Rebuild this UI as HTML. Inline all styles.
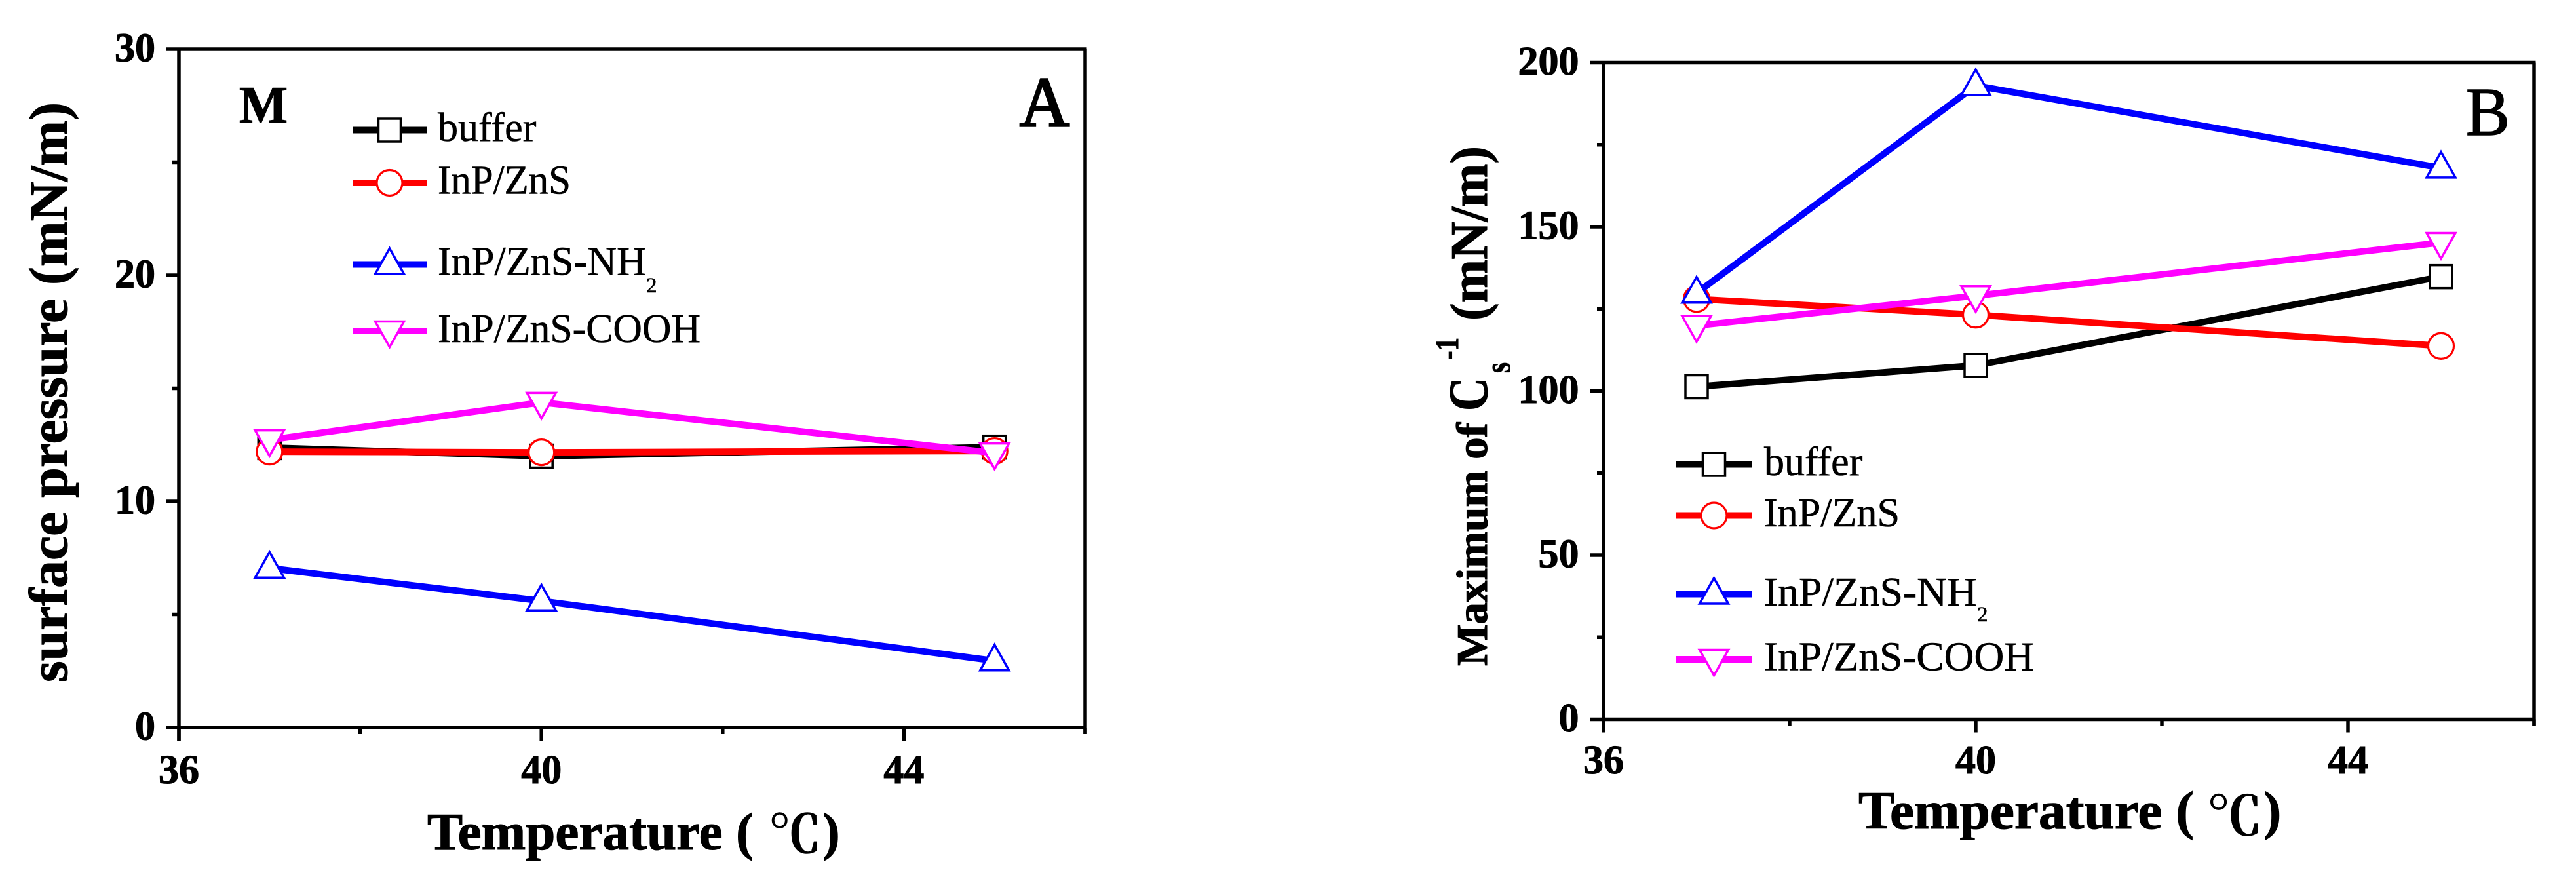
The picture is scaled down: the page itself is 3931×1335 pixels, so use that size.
<!DOCTYPE html>
<html lang="en">
<head>
<meta charset="utf-8">
<title>Surface pressure and compressibility modulus vs temperature</title>
<style>
html,body{margin:0;padding:0;background:#fff;}
svg{display:block;}
text{font-family:"Liberation Serif","Noto Serif CJK SC",serif;fill:#000;stroke:#000;stroke-width:0.6px;}
.b{font-weight:bold;stroke-width:1.1px;}
.cjk{font-family:"Noto Serif CJK SC","Liberation Serif",serif;font-weight:bold;}
</style>
</head>
<body>
<svg id="figure" xmlns="http://www.w3.org/2000/svg" width="3931" height="1335" viewBox="0 0 3931 1335">
  <rect width="3931" height="1335" fill="#fff"/>

  <g id="panel-a"></g>
  <g id="panel-b"></g>

  <!-- Panel A text -->
  <text class="b" font-size="83" textLength="885" lengthAdjust="spacingAndGlyphs" transform="translate(102,1041) rotate(-90)">surface pressure (mN/m)</text>
  <text class="b" font-size="80" x="652" y="1296" textLength="498" lengthAdjust="spacingAndGlyphs">Temperature (</text>
  <text class="cjk" font-size="80" x="1173" y="1301" textLength="80" lengthAdjust="spacingAndGlyphs">℃</text>
  <text class="b" font-size="80" x="1255" y="1296">)</text>
  <text class="b" font-size="80" x="365" y="187" textLength="74" lengthAdjust="spacingAndGlyphs">M</text>
  <text style="stroke-width:3px" font-size="108" x="1556" y="192" textLength="76" lengthAdjust="spacingAndGlyphs">A</text>
  <text font-size="62" x="668" y="215">buffer</text>
  <text font-size="62" x="668" y="295.5" textLength="203" lengthAdjust="spacingAndGlyphs">InP/ZnS</text>
  <text font-size="62" x="668" y="419.5" textLength="318" lengthAdjust="spacingAndGlyphs">InP/ZnS-NH</text>
  <text font-size="33" x="986" y="446">2</text>
  <text font-size="62" x="668" y="522" textLength="401" lengthAdjust="spacingAndGlyphs">InP/ZnS-COOH</text>

  <!-- Panel B text -->
  <text class="b" font-size="67" textLength="371" lengthAdjust="spacingAndGlyphs" transform="translate(2269,1016) rotate(-90)">Maximum of</text>
  <text class="b" font-size="85" textLength="51" lengthAdjust="spacingAndGlyphs" transform="translate(2269,627) rotate(-90)">C</text>
  <text class="b" font-size="55" textLength="16" lengthAdjust="spacingAndGlyphs" transform="translate(2304,569) rotate(-90)">s</text>
  <text class="b" font-size="50" textLength="34" lengthAdjust="spacingAndGlyphs" transform="translate(2225,549) rotate(-90)">-1</text>
  <text class="b" font-size="80" textLength="266" lengthAdjust="spacingAndGlyphs" transform="translate(2269,489) rotate(-90)">(mN/m)</text>
  <text class="b" font-size="82" x="2836" y="1264" textLength="512" lengthAdjust="spacingAndGlyphs">Temperature (</text>
  <text class="cjk" font-size="82" x="3368" y="1274" textLength="84" lengthAdjust="spacingAndGlyphs">℃</text>
  <text class="b" font-size="82" x="3454" y="1264">)</text>
  <text style="stroke-width:1.5px" font-size="105" x="3763" y="206" textLength="67" lengthAdjust="spacingAndGlyphs">B</text>
  <text font-size="62" x="2692" y="725">buffer</text>
  <text font-size="62" x="2692" y="803" textLength="207" lengthAdjust="spacingAndGlyphs">InP/ZnS</text>
  <text font-size="62" x="2692" y="924" textLength="325" lengthAdjust="spacingAndGlyphs">InP/ZnS-NH</text>
  <text font-size="33" x="3017" y="948">2</text>
  <text font-size="62" x="2692" y="1022.5" textLength="412" lengthAdjust="spacingAndGlyphs">InP/ZnS-COOH</text>
</svg>

<script>
// ---- chart data ----
const temperatures = [37, 40, 45];

const surfaceBuffer = [12.38, 12.0, 12.4];
const surfaceInpZns = [12.2, 12.17, 12.23];
const surfaceNh2 = [7.05, 5.6, 2.95];
const surfaceCooh = [12.72, 14.38, 12.14];

const modulusBuffer = [101.3, 107.8, 134.8];
const modulusInpZns = [128, 123.2, 113.7];
const modulusNh2 = [129.8, 193, 167.9];
const modulusCooh = [119.9, 129, 145.2];

const xMajorTicks = [36, 40, 44];
const xMinorTicks = [38, 42, 46];
const yMajorTicksA = [0, 10, 20, 30];
const yMinorTicksA = [5, 15, 25];
const yMajorTicksB = [0, 50, 100, 150, 200];
const yMinorTicksB = [25, 75, 125, 175];

// ---- axis functions ----
const xScaleA = function (v) { return 273 + (v - 36) * 138.3; };
const yScaleA = function (v) { return 1110 - v * 34.5; };
const xScaleB = function (v) { return 2447 + (v - 36) * 142; };
const yScaleB = function (v) { return 1097.5 - v * 5.01; };

const NS = 'http://www.w3.org/2000/svg';

function make(tag, parent, props) {
  const node = document.createElementNS(NS, tag);
  Object.keys(props).forEach(function (k) { node.setAttribute(k, props[k]); });
  parent.appendChild(node);
  return node;
}

function drawMarker(parent, kind, cx, cy, color, name) {
  let m;
  if (kind === 'square') {
    m = make('rect', parent, { x: cx - 17, y: cy - 17.5, width: 34, height: 35, fill: '#fff', stroke: color, 'stroke-width': 3.5 });
  } else if (kind === 'circle') {
    m = make('circle', parent, { cx: cx, cy: cy, r: 19.5, fill: '#fff', stroke: color, 'stroke-width': 3.2 });
  } else if (kind === 'up') {
    m = make('polygon', parent, {
      points: [cx, cy - 24.5, cx + 22, cy + 14.5, cx - 22, cy + 14.5].join(','),
      fill: '#fff', stroke: color, 'stroke-width': 3.5
    });
  } else {
    m = make('polygon', parent, {
      points: [cx, cy + 24.5, cx + 22, cy - 14.5, cx - 22, cy - 14.5].join(','),
      fill: '#fff', stroke: color, 'stroke-width': 3.5
    });
  }
  
  
}

function drawSeries(parent, xFn, yFn, xs, ys, color, kind, name) {
  const pts = xs.map(function (x, i) { return xFn(x) + ',' + yFn(ys[i]); }).join(' ');
  const line = make('polyline', parent, { points: pts, fill: 'none', stroke: color, 'stroke-width': 10, 'stroke-linejoin': 'miter' });
  
  
  xs.forEach(function (x, i) {
    drawMarker(parent, kind, xFn(x), yFn(ys[i]), color, name + '-point-' + x);
  });
}

function drawAxes(parent, cfg) {
  const xFn = cfg.xFn, yFn = cfg.yFn;
  const left = xFn(36), right = xFn(46), top = yFn(cfg.yMax), bottom = yFn(0);

  function seg(x1, y1, x2, y2, name) {
    const l = make('line', parent, { x1: x1, y1: y1, x2: x2, y2: y2, stroke: '#000', 'stroke-width': 5.5 });
    
    
  }

  seg(left, top, left, bottom + cfg.majorLen, cfg.prefix + '-y-axis');
  seg(left, bottom, right + 2.5, bottom, cfg.prefix + '-x-axis');
  seg(left, top, right + 2.5, top, cfg.prefix + '-top-border');
  seg(right, top, right, bottom + cfg.minorLen, cfg.prefix + '-right-border');

  cfg.yMajor.forEach(function (v) {
    seg(left - cfg.majorLen, yFn(v), left, yFn(v), cfg.prefix + '-y-tick-' + v);
    const t = make('text', parent, { class: 'b', 'font-size': 62, x: left - cfg.yLabelGap, y: yFn(v) + 18.5, 'text-anchor': 'end' });
    t.textContent = String(v);
    
    
  });
  cfg.yMinor.forEach(function (v) {
    seg(left - cfg.minorLen, yFn(v), left, yFn(v), cfg.prefix + '-y-minor-tick-' + v);
  });
  xMajorTicks.forEach(function (v) {
    seg(xFn(v), bottom, xFn(v), bottom + cfg.majorLen, cfg.prefix + '-x-tick-' + v);
    const t = make('text', parent, { class: 'b', 'font-size': 62, x: xFn(v), y: cfg.xLabelY, 'text-anchor': 'middle' });
    t.textContent = String(v);
    
    
  });
  xMinorTicks.forEach(function (v) {
    seg(xFn(v), bottom, xFn(v), bottom + cfg.minorLen, cfg.prefix + '-x-minor-tick-' + v);
  });
}

function drawLegendKey(parent, x1, x2, xm, y, color, kind, name) {
  const l = make('line', parent, { x1: x1, y1: y, x2: x2, y2: y, stroke: color, 'stroke-width': 10 });
  
  
  drawMarker(parent, kind, xm, y, color, name + '-marker');
}

// ---- panel A ----
const panelA = document.getElementById('panel-a');
drawAxes(panelA, {
  prefix: 'panel-a', xFn: xScaleA, yFn: yScaleA, yMax: 30,
  yMajor: yMajorTicksA, yMinor: yMinorTicksA,
  majorLen: 20, minorLen: 10, yLabelGap: 36, xLabelY: 1195
});
drawSeries(panelA, xScaleA, yScaleA, temperatures, surfaceBuffer, '#000', 'square', 'panel-a-buffer');
drawSeries(panelA, xScaleA, yScaleA, temperatures, surfaceInpZns, '#f00', 'circle', 'panel-a-inp-zns');
drawSeries(panelA, xScaleA, yScaleA, temperatures, surfaceNh2, '#00f', 'up', 'panel-a-inp-zns-nh2');
drawSeries(panelA, xScaleA, yScaleA, temperatures, surfaceCooh, '#f0f', 'down', 'panel-a-inp-zns-cooh');
drawLegendKey(panelA, 539, 651, 594.5, 198.5, '#000', 'square', 'panel-a-legend-key-buffer');
drawLegendKey(panelA, 539, 651, 594.5, 279, '#f00', 'circle', 'panel-a-legend-key-inp-zns');
drawLegendKey(panelA, 539, 651, 594.5, 403.5, '#00f', 'up', 'panel-a-legend-key-nh2');
drawLegendKey(panelA, 539, 651, 594.5, 505, '#f0f', 'down', 'panel-a-legend-key-cooh');

// ---- panel B ----
const panelB = document.getElementById('panel-b');
drawAxes(panelB, {
  prefix: 'panel-b', xFn: xScaleB, yFn: yScaleB, yMax: 200,
  yMajor: yMajorTicksB, yMinor: yMinorTicksB,
  majorLen: 20, minorLen: 10, yLabelGap: 37.5, xLabelY: 1180
});
drawSeries(panelB, xScaleB, yScaleB, temperatures, modulusBuffer, '#000', 'square', 'panel-b-buffer');
drawSeries(panelB, xScaleB, yScaleB, temperatures, modulusInpZns, '#f00', 'circle', 'panel-b-inp-zns');
drawSeries(panelB, xScaleB, yScaleB, temperatures, modulusNh2, '#00f', 'up', 'panel-b-inp-zns-nh2');
drawSeries(panelB, xScaleB, yScaleB, temperatures, modulusCooh, '#f0f', 'down', 'panel-b-inp-zns-cooh');
drawLegendKey(panelB, 2558, 2673, 2615.5, 708.5, '#000', 'square', 'panel-b-legend-key-buffer');
drawLegendKey(panelB, 2558, 2673, 2615.5, 786.5, '#f00', 'circle', 'panel-b-legend-key-inp-zns');
drawLegendKey(panelB, 2558, 2673, 2615.5, 906.5, '#00f', 'up', 'panel-b-legend-key-nh2');
drawLegendKey(panelB, 2558, 2673, 2615.5, 1006, '#f0f', 'down', 'panel-b-legend-key-cooh');
</script>
</body>
</html>
